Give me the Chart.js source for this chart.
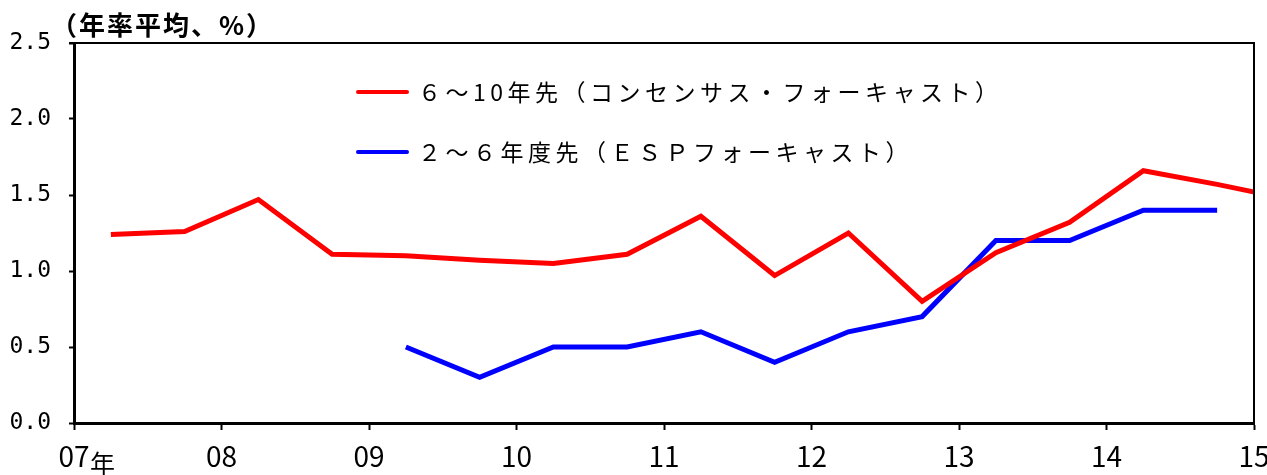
<!DOCTYPE html>
<html lang="ja">
<head>
<meta charset="utf-8">
<script src="https://cdn.jsdelivr.net/npm/chart.js@4/dist/chart.umd.min.js"></script>
<style>
  html, body { margin: 0; padding: 0; background: #fff; }
  #wrap { width: 1267px; height: 475px; position: relative; }
</style>
</head>
<body>
<div id="wrap"><canvas id="c" width="1267" height="475"></canvas></div>
<script>
// Half-year observation points (year + fraction)
const consensusX = [2007.25, 2007.75, 2008.25, 2008.75, 2009.25, 2009.75, 2010.25, 2010.75,
                    2011.25, 2011.75, 2012.25, 2012.75, 2013.25, 2013.75, 2014.25, 2014.75, 2015.25];
const consensusY = [1.24, 1.26, 1.47, 1.11, 1.10, 1.07, 1.05, 1.11,
                    1.36, 0.97, 1.25, 0.80, 1.12, 1.32, 1.66, 1.57, 1.47];

const espX = [2009.25, 2009.75, 2010.25, 2010.75, 2011.25, 2011.75, 2012.25, 2012.75,
              2013.25, 2013.75, 2014.25, 2014.75];
const espY = [0.5, 0.3, 0.5, 0.5, 0.6, 0.4, 0.6, 0.7, 1.2, 1.2, 1.4, 1.4];

const seriesNames = ['６～10年先（コンセンサス・フォーキャスト）', '２～６年度先（ＥＳＰフォーキャスト）'];
const yTickLabels = ['0.0', '0.5', '1.0', '1.5', '2.0', '2.5'];
const xTickLabels = ['07', '08', '09', '10', '11', '12', '13', '14', '15'];
const unitTitle = '（年率平均、%）';
const yearSuffix = '年';

const toPoints = (xs, ys) => xs.map((x, i) => ({ x: x, y: ys[i] }));

const JP = '"Noto Sans CJK JP", "Noto Sans", sans-serif';

// Frame on top/right, unit title, year suffix and in-plot legend
const decorations = {
  id: 'decorations',
  afterDraw(chart) {
    const { ctx, chartArea: a, scales } = chart;
    ctx.save();
    ctx.strokeStyle = '#000';
    ctx.lineWidth = 2;
    ctx.beginPath();
    ctx.moveTo(a.left - 5, a.top);
    ctx.lineTo(a.right, a.top);
    ctx.lineTo(a.right, a.bottom);
    ctx.stroke();

    // unit title
    ctx.fillStyle = '#000';
    ctx.font = 'bold 26px ' + JP;
    ctx.letterSpacing = '2px';
    ctx.textBaseline = 'middle';
    ctx.textAlign = 'left';
    ctx.fillText(unitTitle, 51, 25);

    // "年" after the first year label
    const x0 = scales.x.getPixelForValue(2007);
    ctx.letterSpacing = '0px';
    ctx.font = '25px ' + JP;
    ctx.fillText(yearSuffix, x0 + 16, 463);

    // legend
    const ds = chart.data.datasets;
    const rows = [92, 152];
    ctx.font = '23px ' + JP;
    ctx.letterSpacing = '4.5px';
    ds.forEach((d, i) => {
      const y = rows[i];
      ctx.strokeStyle = d.borderColor;
      ctx.lineWidth = 4;
      ctx.lineCap = 'round';
      ctx.beginPath();
      ctx.moveTo(358, y);
      ctx.lineTo(407, y);
      ctx.stroke();
      ctx.fillStyle = '#000';
      ctx.fillText(d.label, 418, y);
    });
    ctx.restore();
  }
};

new Chart(document.getElementById('c'), {
  type: 'line',
  data: {
    datasets: [
      { label: seriesNames[0], data: toPoints(consensusX, consensusY), borderColor: '#FF0000',
        borderWidth: 5, pointRadius: 0, tension: 0, borderJoinStyle: 'miter' },
      { label: seriesNames[1], data: toPoints(espX, espY), borderColor: '#0000FF',
        borderWidth: 5, pointRadius: 0, tension: 0, borderJoinStyle: 'miter' }
    ]
  },
  options: {
    responsive: false,
    animation: false,
    events: [],
    layout: { padding: { top: 43, right: 13, left: 0, bottom: 0 } },
    plugins: { legend: { display: false }, tooltip: { enabled: false } },
    scales: {
      x: {
        type: 'linear', min: 2007, max: 2015,
        afterFit(s) { s.height = 52; s.paddingLeft = 0; s.paddingRight = 0; },
        afterBuildTicks(s) { s.ticks = xTickLabels.map((t, i) => ({ value: 2007 + i })); },
        ticks: {
          autoSkip: false, maxRotation: 0, padding: 10, color: '#000',
          font: { family: JP, size: 28 },
          callback: (v, i) => xTickLabels[i]
        },
        grid: { drawOnChartArea: false, drawTicks: true, tickLength: 7, tickWidth: 2, tickColor: '#000' },
        border: { display: true, color: '#000', width: 3 }
      },
      y: {
        type: 'linear', min: 0, max: 2.5,
        afterFit(s) { s.width = 74; s.paddingTop = 0; s.paddingBottom = 0; },
        afterBuildTicks(s) { s.ticks = yTickLabels.map(t => ({ value: parseFloat(t) })); },
        ticks: {
          padding: 18, color: '#000',
          font: { family: '"DejaVu Sans Mono", monospace', size: 23 },
          callback: (v, i) => yTickLabels[i]
        },
        grid: { drawOnChartArea: false, drawTicks: true, tickLength: 5, tickWidth: 2, tickColor: '#000' },
        border: { display: true, color: '#000', width: 3 }
      }
    }
  },
  plugins: [decorations]
});
</script>
</body>
</html>
